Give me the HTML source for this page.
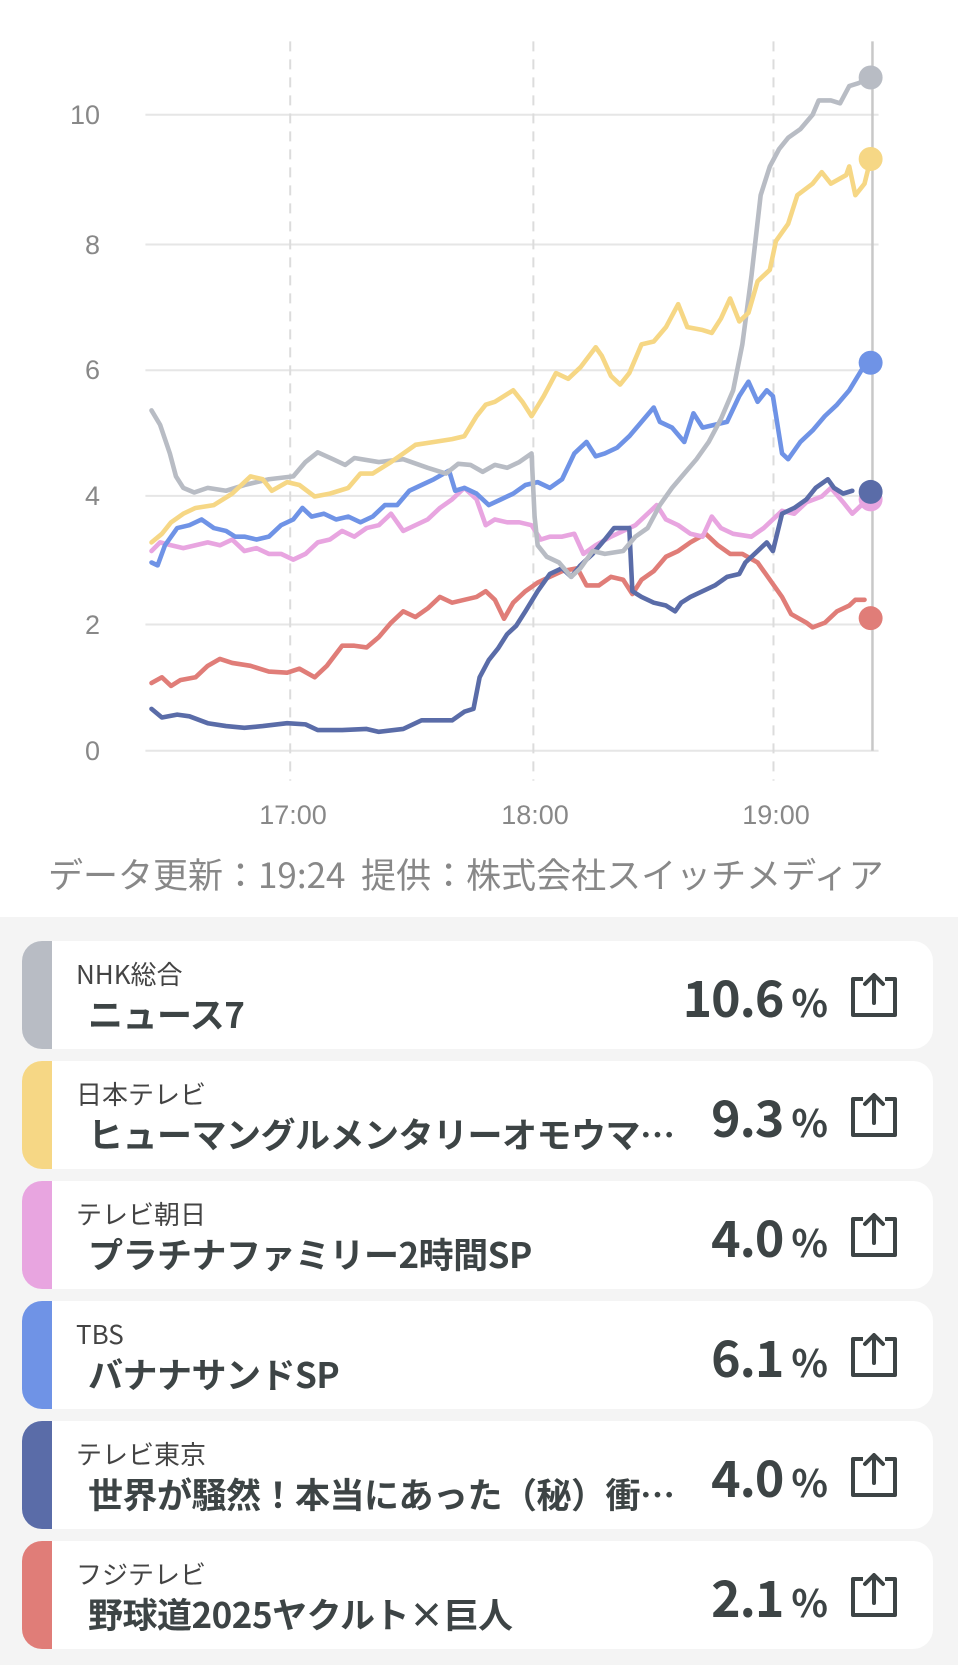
<!DOCTYPE html>
<html><head><meta charset="utf-8"><style>
body{margin:0;width:958px;height:1665px;background:#fff;font-family:"Liberation Sans","Noto Sans CJK JP",sans-serif;position:relative;overflow:hidden}
.yl{position:absolute;right:858px;font-size:27px;color:#888;text-align:right;line-height:27px}
.xl{position:absolute;top:800px;font-size:27px;color:#888;width:100px;text-align:center;margin-left:-50px}
.src{position:absolute;top:848px;left:48px;font-size:35px;color:#888;white-space:nowrap;font-family:"Noto Sans CJK JP",sans-serif}
.bg{position:absolute;top:917px;left:0;width:958px;height:748px;background:#f4f4f4}
.card{position:absolute;left:22px;width:911px;height:108px;background:#fff;border-radius:20px;overflow:hidden}
.bar{position:absolute;left:0;top:0;width:30px;height:108px}
.ch{position:absolute;left:54px;top:14px;font-size:26px;color:#444;font-family:"Noto Sans CJK JP",sans-serif}
.ti{position:absolute;left:66px;top:47px;font-size:35px;font-weight:bold;color:#3d4445;font-family:"Noto Sans CJK JP",sans-serif;white-space:nowrap;letter-spacing:-0.5px}
.pc{position:absolute;right:106px;top:28px;font-size:50px;font-weight:bold;color:#3d4445;font-family:"Noto Sans CJK JP",sans-serif;line-height:54px;letter-spacing:-1px}
.pc span{font-size:38px;font-weight:bold;margin-left:8px}
.ic{position:absolute;left:827px;top:32px}
</style></head><body>
<svg style="position:absolute;left:0;top:0" width="958" height="900" viewBox="0 0 1568 1568" preserveAspectRatio="none">
<g stroke="#e6e6e6" stroke-width="2">
<line x1="238" x2="1438" y1="200" y2="200" vector-effect="non-scaling-stroke"/>
<line x1="238" x2="1438" y1="426" y2="426" vector-effect="non-scaling-stroke"/>
<line x1="238" x2="1438" y1="645" y2="645" vector-effect="non-scaling-stroke"/>
<line x1="238" x2="1438" y1="864" y2="864" vector-effect="non-scaling-stroke"/>
<line x1="238" x2="1438" y1="1088" y2="1088" vector-effect="non-scaling-stroke"/>
<line x1="238" x2="1438" y1="1308" y2="1308" vector-effect="non-scaling-stroke"/>
</g>
<g stroke="#dcdcdc" stroke-width="2" stroke-dasharray="10,8">
<line x1="475" x2="475" y1="72" y2="1360" vector-effect="non-scaling-stroke"/>
<line x1="873" x2="873" y1="72" y2="1360" vector-effect="non-scaling-stroke"/>
<line x1="1266" x2="1266" y1="72" y2="1360" vector-effect="non-scaling-stroke"/>
</g>
<line x1="1428" x2="1428" y1="72" y2="1308" stroke="#c8c8c8" stroke-width="2.5" vector-effect="non-scaling-stroke"/>
<g fill="none" stroke-width="4.6" stroke-linejoin="round" stroke-linecap="round">
<polyline vector-effect="non-scaling-stroke" stroke="#e07d78" points="248,1190 265,1180 280,1195 295,1185 320,1180 340,1160 360,1148 380,1155 410,1160 440,1170 470,1172 490,1165 515,1180 535,1160 560,1125 580,1125 600,1128 620,1110 640,1085 660,1065 680,1075 700,1060 720,1040 740,1050 760,1045 780,1040 795,1030 810,1045 825,1078 840,1050 860,1030 880,1015 900,1005 920,995 945,990 960,1020 980,1020 1000,1005 1020,1010 1035,1035 1050,1010 1070,995 1090,970 1110,960 1130,945 1155,930 1175,950 1195,965 1215,965 1240,980 1260,1010 1280,1040 1295,1070 1320,1085 1330,1093 1350,1085 1370,1065 1390,1055 1400,1045 1415,1045"/>
<polyline vector-effect="non-scaling-stroke" stroke="#e8a5e0" points="248,960 262,945 280,950 300,955 320,950 340,945 360,950 380,940 400,960 420,955 440,965 460,965 480,975 500,965 520,945 540,940 560,925 580,935 600,920 620,915 640,895 660,925 680,915 700,905 720,885 740,870 760,850 780,870 795,915 810,905 830,910 850,910 870,915 885,940 900,935 920,935 940,930 955,965 975,950 1000,935 1020,925 1040,915 1060,895 1075,880 1090,905 1110,915 1130,930 1150,935 1165,900 1180,920 1200,930 1230,935 1250,920 1265,905 1280,890 1300,895 1320,875 1345,865 1360,850 1380,875 1395,895 1410,880 1425,870"/>
<polyline vector-effect="non-scaling-stroke" stroke="#5a6ca8" points="248,1235 265,1250 290,1245 310,1248 340,1260 370,1265 400,1268 430,1265 470,1260 500,1262 520,1272 560,1272 600,1270 620,1275 660,1270 690,1255 740,1255 760,1240 775,1235 785,1180 800,1150 815,1130 830,1105 845,1090 860,1065 880,1030 900,1000 920,990 935,1005 950,985 970,965 990,940 1005,920 1020,920 1030,920 1035,1030 1050,1040 1070,1050 1090,1055 1105,1065 1115,1050 1130,1040 1150,1030 1170,1020 1190,1005 1210,1000 1220,980 1240,960 1255,945 1265,960 1280,895 1300,885 1320,870 1335,850 1355,835 1365,850 1380,860 1395,855"/>
<polyline vector-effect="non-scaling-stroke" stroke="#6f93e6" points="248,980 258,985 270,950 290,920 310,915 330,905 350,920 370,925 385,935 400,935 420,940 440,935 460,915 480,905 495,885 510,900 530,895 550,905 570,900 590,910 610,900 630,880 650,880 670,855 690,845 710,835 735,820 745,855 760,850 780,860 800,880 820,870 840,860 860,845 880,840 900,850 920,835 940,790 960,770 975,795 990,790 1010,780 1030,760 1050,735 1070,710 1080,735 1100,745 1120,770 1135,720 1150,745 1170,740 1190,735 1210,690 1225,665 1240,700 1255,680 1265,690 1280,790 1290,800 1310,770 1330,750 1350,725 1370,705 1390,680 1410,645 1425,632"/>
<polyline vector-effect="non-scaling-stroke" stroke="#b8bcc4" points="248,715 262,740 278,790 288,830 300,850 318,858 340,850 370,855 400,845 440,835 480,830 500,805 520,788 545,800 565,810 580,798 620,805 660,800 700,815 730,825 750,808 770,810 790,822 810,810 830,815 850,805 870,790 875,900 880,950 895,970 915,980 935,1005 950,990 970,960 990,965 1020,960 1040,935 1060,920 1080,880 1100,850 1120,825 1140,800 1160,770 1180,730 1200,680 1215,600 1230,480 1245,340 1260,290 1275,260 1290,240 1310,225 1330,200 1340,175 1360,175 1375,180 1390,150 1405,145 1425,135"/>
<polyline vector-effect="non-scaling-stroke" stroke="#f6d785" points="248,945 265,930 280,910 300,895 320,885 350,880 380,860 410,830 430,835 445,855 470,840 490,845 515,865 540,860 570,850 590,825 610,825 640,805 660,790 680,775 710,770 740,765 760,760 780,725 795,705 810,700 825,690 840,680 855,700 870,725 890,690 910,650 930,660 950,640 975,605 985,620 1000,655 1015,670 1030,650 1050,600 1070,595 1090,570 1110,530 1125,570 1150,575 1165,580 1180,555 1195,520 1210,560 1225,545 1240,490 1260,470 1270,420 1290,390 1305,340 1330,320 1345,300 1360,320 1385,305 1390,290 1400,340 1415,320 1425,277"/>
</g>
<ellipse cx="1425" cy="870" rx="19.6" ry="20.9" fill="#e8a5e0"/>
<ellipse cx="1425" cy="135" rx="19.6" ry="20.9" fill="#b8bcc4"/>
<ellipse cx="1425" cy="277" rx="19.6" ry="20.9" fill="#f6d785"/>
<ellipse cx="1425" cy="632" rx="19.6" ry="20.9" fill="#6f93e6"/>
<ellipse cx="1425" cy="857" rx="19.6" ry="20.9" fill="#5a6ca8"/>
<ellipse cx="1425" cy="1077" rx="19.6" ry="20.9" fill="#e07d78"/>
</svg>
<div class="yl" style="top:102px">10</div>
<div class="yl" style="top:232px">8</div>
<div class="yl" style="top:357px">6</div>
<div class="yl" style="top:483px">4</div>
<div class="yl" style="top:612px">2</div>
<div class="yl" style="top:738px">0</div>
<div class="xl" style="left:293px">17:00</div>
<div class="xl" style="left:535px">18:00</div>
<div class="xl" style="left:776px">19:00</div>
<div class="src">データ更新：19:24&nbsp; 提供：株式会社スイッチメディア</div>
<div class="bg"></div>

<div class="card" style="top:941px"><div class="bar" style="background:#b8bcc4"></div><div class="ch">NHK総合</div><div class="ti">ニュース7</div><div class="pc">10.6<span>%</span></div><svg class="ic" width="50" height="46" viewBox="0 0 50 46"><path d="M14 6H4V42H46V6H36" fill="none" stroke="#3d4445" stroke-width="4" stroke-linejoin="round"/><path d="M25 30V3M16 11L25 2L34 11" fill="none" stroke="#3d4445" stroke-width="4" stroke-linecap="round" stroke-linejoin="round"/></svg></div>
<div class="card" style="top:1061px"><div class="bar" style="background:#f6d785"></div><div class="ch">日本テレビ</div><div class="ti">ヒューマングルメンタリーオモウマ…</div><div class="pc">9.3<span>%</span></div><svg class="ic" width="50" height="46" viewBox="0 0 50 46"><path d="M14 6H4V42H46V6H36" fill="none" stroke="#3d4445" stroke-width="4" stroke-linejoin="round"/><path d="M25 30V3M16 11L25 2L34 11" fill="none" stroke="#3d4445" stroke-width="4" stroke-linecap="round" stroke-linejoin="round"/></svg></div>
<div class="card" style="top:1181px"><div class="bar" style="background:#e8a5e0"></div><div class="ch">テレビ朝日</div><div class="ti">プラチナファミリー2時間SP</div><div class="pc">4.0<span>%</span></div><svg class="ic" width="50" height="46" viewBox="0 0 50 46"><path d="M14 6H4V42H46V6H36" fill="none" stroke="#3d4445" stroke-width="4" stroke-linejoin="round"/><path d="M25 30V3M16 11L25 2L34 11" fill="none" stroke="#3d4445" stroke-width="4" stroke-linecap="round" stroke-linejoin="round"/></svg></div>
<div class="card" style="top:1301px"><div class="bar" style="background:#6f93e6"></div><div class="ch">TBS</div><div class="ti">バナナサンドSP</div><div class="pc">6.1<span>%</span></div><svg class="ic" width="50" height="46" viewBox="0 0 50 46"><path d="M14 6H4V42H46V6H36" fill="none" stroke="#3d4445" stroke-width="4" stroke-linejoin="round"/><path d="M25 30V3M16 11L25 2L34 11" fill="none" stroke="#3d4445" stroke-width="4" stroke-linecap="round" stroke-linejoin="round"/></svg></div>
<div class="card" style="top:1421px"><div class="bar" style="background:#5a6ca8"></div><div class="ch">テレビ東京</div><div class="ti">世界が騒然！本当にあった（秘）衝…</div><div class="pc">4.0<span>%</span></div><svg class="ic" width="50" height="46" viewBox="0 0 50 46"><path d="M14 6H4V42H46V6H36" fill="none" stroke="#3d4445" stroke-width="4" stroke-linejoin="round"/><path d="M25 30V3M16 11L25 2L34 11" fill="none" stroke="#3d4445" stroke-width="4" stroke-linecap="round" stroke-linejoin="round"/></svg></div>
<div class="card" style="top:1541px"><div class="bar" style="background:#e07d78"></div><div class="ch">フジテレビ</div><div class="ti">野球道2025ヤクルト×巨人</div><div class="pc">2.1<span>%</span></div><svg class="ic" width="50" height="46" viewBox="0 0 50 46"><path d="M14 6H4V42H46V6H36" fill="none" stroke="#3d4445" stroke-width="4" stroke-linejoin="round"/><path d="M25 30V3M16 11L25 2L34 11" fill="none" stroke="#3d4445" stroke-width="4" stroke-linecap="round" stroke-linejoin="round"/></svg></div>
</body></html>
